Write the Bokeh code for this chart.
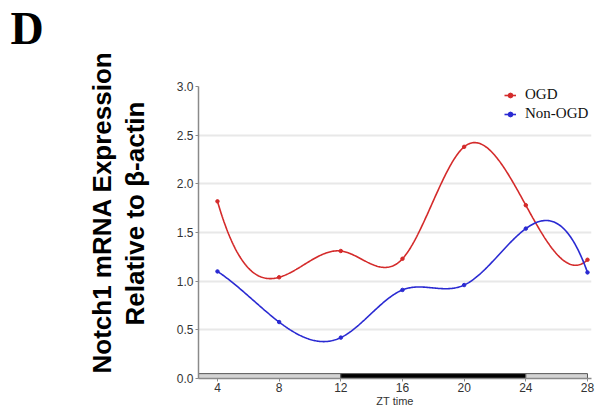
import numpy as np
from bokeh.plotting import figure
from bokeh.models import (Range1d, Legend, LegendItem, FixedTicker, Title,
                          CustomJSTickFormatter)
from bokeh.embed import file_html
from bokeh.resources import INLINE

# ---- data ----
zt = [4, 8, 12, 16, 20, 24, 28]
ogd = [1.82, 1.04, 1.31, 1.23, 2.38, 1.78, 1.22]
non_ogd = [1.10, 0.58, 0.42, 0.91, 0.96, 1.54, 1.09]
x_ticks = [4, 8, 12, 16, 20, 24, 28]
y_ticks = [0.0, 0.5, 1.0, 1.5, 2.0, 2.5, 3.0]
# light/dark bar at the bottom of the plot
bar_left = [None, 12, 24]   # None -> start of axis
bar_right = [12, 24, 28]
bar_fill = ["#d4d4d4", "#000000", "#d4d4d4"]
bar_height = 0.05

RED = "#d42b2b"
BLUE = "#2a2ad2"

X0, X1 = 2.77, 28.26


def smooth_curve(xs, ys, n=400):
    """Not-a-knot cubic spline through the data points (drawing only)."""
    xs = np.asarray(xs, float)
    ys = np.asarray(ys, float)
    k = len(xs)
    h = np.diff(xs)
    A = np.zeros((k, k))
    b = np.zeros(k)
    A[0, 0], A[0, 1], A[0, 2] = -h[1], h[0] + h[1], -h[0]
    A[-1, -3], A[-1, -2], A[-1, -1] = -h[-1], h[-2] + h[-1], -h[-2]
    for i in range(1, k - 1):
        A[i, i - 1] = h[i - 1]
        A[i, i] = 2 * (h[i - 1] + h[i])
        A[i, i + 1] = h[i]
        b[i] = 6 * ((ys[i + 1] - ys[i]) / h[i] - (ys[i] - ys[i - 1]) / h[i - 1])
    M = np.linalg.solve(A, b)
    xx = np.linspace(xs[0], xs[-1], n)
    yy = np.empty_like(xx)
    for j, x in enumerate(xx):
        i = min(max(np.searchsorted(xs, x, side="right") - 1, 0), k - 2)
        t1 = xs[i + 1] - x
        t0 = x - xs[i]
        hi = h[i]
        yy[j] = (M[i] * t1 ** 3 / (6 * hi) + M[i + 1] * t0 ** 3 / (6 * hi)
                 + (ys[i] / hi - M[i] * hi / 6) * t1
                 + (ys[i + 1] / hi - M[i + 1] * hi / 6) * t0)
    return xx, yy


p = figure(width=599, height=409, output_backend="svg", toolbar_location=None,
           x_range=Range1d(X0, X1), y_range=Range1d(0, 3.0),
           min_border_left=198, min_border_right=8, min_border_top=84,
           min_border_bottom=30)
p.outline_line_color = None
p.background_fill_color = "white"

# grid
p.xgrid.visible = False
p.ygrid.grid_line_color = "#e8e8e8"
p.ygrid.grid_line_width = 2

# axes
for ax in (p.xaxis, p.yaxis):
    ax.axis_line_color = "#8a8a8a"
    ax.axis_line_width = 1.5
    ax.major_tick_line_color = "#8a8a8a"
    ax.major_tick_line_width = 1
    ax.major_tick_in = 0
    ax.major_tick_out = 3
    ax.minor_tick_line_color = None
    ax.major_label_text_font = "Liberation Sans"
    ax.major_label_text_font_size = "12px"
    ax.major_label_text_color = "#333333"
    ax.major_label_standoff = 2
p.xaxis.major_label_standoff = 1
p.xaxis.ticker = FixedTicker(ticks=x_ticks)
p.yaxis.ticker = FixedTicker(ticks=y_ticks)
p.yaxis.formatter = CustomJSTickFormatter(code="return tick.toFixed(1);")
p.xaxis.axis_label = "ZT time"
p.xaxis.axis_label_standoff = 0
p.xaxis.axis_label_text_font = "Liberation Sans"
p.xaxis.axis_label_text_font_style = "normal"
p.xaxis.axis_label_text_font_size = "11px"
p.xaxis.axis_label_text_color = "#333333"

# bottom light/dark bar
lefts = [X0 if v is None else v for v in bar_left]
p.quad(left=lefts, right=bar_right, bottom=[0] * 3, top=[bar_height] * 3,
       fill_color=bar_fill, line_color="#555555", line_width=1)

# curves
xr, yr = smooth_curve(zt, ogd)
xb, yb = smooth_curve(zt, non_ogd)
l1 = p.line(xr, yr, line_color=RED, line_width=1.6)
s1 = p.scatter(zt, ogd, size=3.5, color=RED)
l2 = p.line(xb, yb, line_color=BLUE, line_width=1.6)
s2 = p.scatter(zt, non_ogd, size=3.5, color=BLUE)

legend = Legend(items=[LegendItem(label="OGD", renderers=[l1, s1]),
                       LegendItem(label="Non-OGD", renderers=[l2, s2])],
                location=(306, 256), padding=0, margin=0, spacing=2,
                glyph_width=12, glyph_height=16, label_height=16,
                label_standoff=9, label_text_font="Liberation Serif",
                label_text_font_size="15px", label_text_color="#111111",
                border_line_color=None, background_fill_alpha=0)
p.add_layout(legend, "center")

# y-axis title (two lines): spacer next to the axis, then the two lines
spacer_left = Title(text=".", text_font_size="1px", standoff=20,
                    text_color="white")
t2 = Title(text="Relative to β-actin", align="left", offset=53, standoff=1,
           text_font="Liberation Sans", text_font_style="bold",
           text_font_size="26px", text_color="#000000")
t1 = Title(text="Notch1 mRNA Expression", align="left", offset=5, standoff=1,
           text_font="Liberation Sans", text_font_style="bold",
           text_font_size="26px", text_color="#000000")
p.add_layout(spacer_left, "left")
p.add_layout(t2, "left")
p.add_layout(t1, "left")

# panel letter: spacer above the frame, then the letter
spacer_top = Title(text=".", text_font_size="1px", standoff=30,
                   text_color="white")
tD = Title(text="D", align="left", offset=-188, standoff=0,
           text_font="Liberation Serif", text_font_style="bold",
           text_font_size="46px", text_color="#000000")
p.add_layout(spacer_top, "above")
p.add_layout(tD, "above")

open("out.html", "w").write(file_html(p, INLINE))
